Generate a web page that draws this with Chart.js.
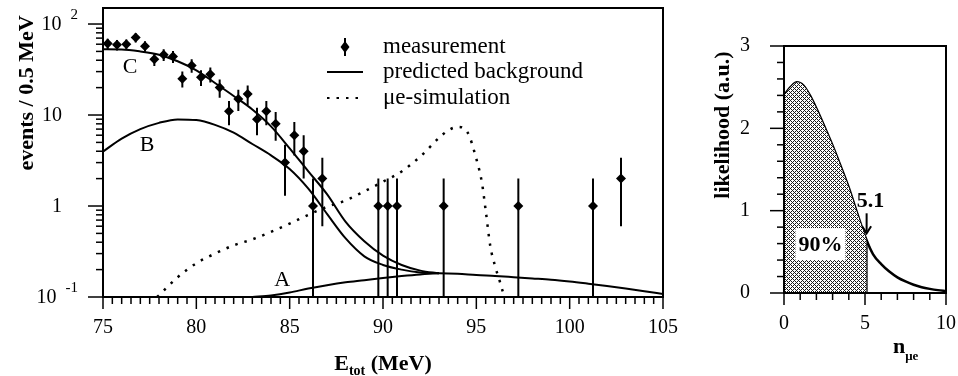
<!DOCTYPE html>
<html>
<head>
<meta charset="utf-8">
<script src="https://cdn.jsdelivr.net/npm/chart.js@4.4.0/dist/chart.umd.min.js"></script>
<style>
  body { margin: 0; background: #fff; }
  #wrap { position: relative; width: 958px; height: 376px; background: #fff; }
  #left { position: absolute; left: 0; top: 0; width: 690px; height: 376px; }
  #right { position: absolute; left: 690px; top: 0; width: 268px; height: 376px; }
</style>
</head>
<body>
<div id="wrap">
  <div id="left"><canvas id="spectrum"></canvas></div>
  <div id="right"><canvas id="likelihood"></canvas></div>
</div>
<script>
// measured spectrum, 0.5 MeV bins (empty bins can't show on the log axis)
const measE = [75.25, 75.75, 76.25, 76.75, 77.25, 77.75, 78.25, 78.75, 79.25, 79.75,
               80.25, 80.75, 81.25, 81.75, 82.25, 82.75, 83.25, 83.75, 84.25, 84.75,
               85.25, 85.75, 86.25, 86.75, 89.75, 90.25, 90.75, 93.25, 97.25, 101.25, 102.75];
const measN = [61, 59, 60, 71, 57, 41, 46, 44, 25, 35,
               26, 28, 20, 11, 15, 17, 9, 11, 8, 3,
               6, 4, 1, 2, 1, 1, 1, 1, 1, 1, 2];
const measErr = [7.8, 7.7, 7.7, 8.4, 7.5, 6.4, 6.8, 6.6, 5, 5.9,
                 5.1, 5.3, 4.5, 3.3, 3.9, 4.1, 3, 3.3, 2.8, 1.7,
                 2.4, 2, 1, 1.4, 1, 1, 1, 1, 1, 1, 1.4];

// predicted background curves
const bgE = [75, 76, 77, 78, 79, 80, 81, 82, 83, 84, 85, 86, 87, 88, 89, 90, 91, 92, 93];
const bgB = [3.96, 5.5, 7.0, 8.2, 8.95, 8.8, 7.8, 6.4, 4.8, 3.6, 2.55, 1.55, 0.82, 0.44, 0.28, 0.225, 0.2, 0.186, 0.182];
const bgC = [52.7, 52.5, 50, 46, 39, 31, 22.5, 16.2, 11.5, 7.5, 4.3, 2.4, 1.35, 0.67, 0.41, 0.285, 0.225, 0.195, 0.182];
const accE = [83, 84, 85, 86, 87, 88, 89, 90, 91, 92, 93, 94, 95, 96, 97, 98, 99, 100, 101, 102, 103, 104, 105];
const bgA = [0.1, 0.104, 0.112, 0.124, 0.135, 0.145, 0.153, 0.162, 0.17, 0.177, 0.182, 0.18, 0.174,
             0.17, 0.165, 0.16, 0.155, 0.148, 0.14, 0.132, 0.124, 0.116, 0.108];

// mu-e simulation
const simE = [77.9, 79, 80, 81, 82, 83, 84, 85, 86, 87, 88, 89, 90, 91, 92, 93, 93.5, 94, 94.5,
              95, 95.3, 95.5, 95.75, 96, 96.25, 96.5];
const simN = [0.1, 0.165, 0.235, 0.3, 0.37, 0.43, 0.52, 0.64, 0.8, 0.98, 1.15, 1.45, 1.85, 2.4, 3.5, 5.6, 6.8, 7.4, 6.6,
              3.3, 1.8, 0.9, 0.36, 0.22, 0.15, 0.1];

const yTickValues = [0.1, 1, 10, 100];
const yTickBase = ['10', '1', '10', '10'];
const yTickExp = ['-1', '', '', '2'];

// likelihood of the number of mu-e events
const likeN = [0, 0.4, 0.8, 1.2, 1.6, 2.0, 2.5, 3.0, 3.5, 4.0, 4.5, 5.1, 5.5, 6.0, 6.5, 7.0, 7.5, 8.0, 8.5, 9.0, 9.5, 10];
const likeL = [2.40, 2.50, 2.56, 2.52, 2.40, 2.24, 2.02, 1.79, 1.54, 1.28, 0.98, 0.64, 0.47, 0.35, 0.26, 0.19, 0.14, 0.10, 0.07, 0.05, 0.035, 0.025];
const nLimit = 5.1;
const confText = '90%';

const SERIF = '"Liberation Serif", "DejaVu Serif", serif';
Chart.defaults.font.family = SERIF;
Chart.defaults.color = '#000';

function line(ctx, x1, y1, x2, y2) {
  ctx.beginPath(); ctx.moveTo(x1, y1); ctx.lineTo(x2, y2); ctx.stroke();
}

function xy(xs, ys) {
  return xs.map((v, i) => ({x: v, y: ys[i]}));
}

const errSegments = [];
measE.forEach((e, i) => {
  errSegments.push({x: e, y: measN[i] + measErr[i]});
  errSegments.push({x: e, y: Math.max(measN[i] - measErr[i], 0.1)});
  errSegments.push({x: e, y: null});
});

const spectrumDecor = {
  id: 'spectrumDecor',
  afterDraw(chart) {
    const {ctx, chartArea: a, scales: {x, y}} = chart;
    ctx.save();
    ctx.strokeStyle = '#000';
    ctx.fillStyle = '#000';
    ctx.lineWidth = 2;
    ctx.strokeRect(a.left, a.top, a.right - a.left, a.bottom - a.top);

    ctx.lineWidth = 1.5;
    for (let i = 0; i <= 60; i++) {
      const px = x.getPixelForValue(75 + i * 0.5);
      line(ctx, px, a.bottom, px, a.bottom + (i % 10 === 0 ? 12 : 7));
    }
    yTickValues.forEach(d => {
      for (let k = 1; k <= 9; k++) {
        if (d * k > y.max) break;
        const py = y.getPixelForValue(d * k);
        line(ctx, a.left - (k === 1 ? 15 : 7), py, a.left, py);
      }
    });

    // y labels with exponents
    ctx.textAlign = 'right';
    yTickValues.forEach((v, i) => {
      const py = y.getPixelForValue(v);
      let right = a.left - 41;
      if (yTickExp[i]) {
        ctx.font = '15px ' + SERIF;
        ctx.textBaseline = 'alphabetic';
        ctx.fillText(yTickExp[i], a.left - 25, py - 5);
        right = a.left - 25 - ctx.measureText(yTickExp[i]).width - 9;
      }
      ctx.font = '20px ' + SERIF;
      ctx.textBaseline = 'middle';
      ctx.fillText(yTickBase[i], right, py + 1);
    });

    // axis titles
    ctx.font = 'bold 22px ' + SERIF;
    ctx.textAlign = 'center';
    ctx.textBaseline = 'middle';
    ctx.save();
    ctx.translate(27, 93);
    ctx.rotate(-Math.PI / 2);
    ctx.fillText('events / 0.5 MeV', 0, 0);
    ctx.restore();

    ctx.textAlign = 'left';
    ctx.textBaseline = 'alphabetic';
    ctx.font = 'bold 22px ' + SERIF;
    const wE = ctx.measureText('E').width;
    const wRest = ctx.measureText(' (MeV)').width;
    ctx.font = 'bold 14px ' + SERIF;
    const wSub = ctx.measureText('tot').width;
    const tx = (a.left + a.right) / 2 - (wE + wSub + wRest) / 2;
    ctx.font = 'bold 22px ' + SERIF;
    ctx.fillText('E', tx, 370);
    ctx.font = 'bold 14px ' + SERIF;
    ctx.fillText('tot', tx + wE, 375);
    ctx.font = 'bold 22px ' + SERIF;
    ctx.fillText(' (MeV)', tx + wE + wSub, 370);

    // curve labels
    ctx.font = '22px ' + SERIF;
    ctx.textAlign = 'center';
    ctx.textBaseline = 'middle';
    [['C', 76.45, 33.7], ['B', 77.36, 4.68], ['A', 84.6, 0.152]].forEach(([t, lx, ly]) => {
      ctx.fillText(t, x.getPixelForValue(lx), y.getPixelForValue(ly));
    });

    // legend
    const lx = 327, lw = 36, ty = [47, 72, 98];
    ctx.lineWidth = 2;
    line(ctx, lx + lw / 2, ty[0] - 9, lx + lw / 2, ty[0] + 9);
    ctx.beginPath();
    ctx.moveTo(lx + lw / 2, ty[0] - 6); ctx.lineTo(lx + lw / 2 + 4.5, ty[0]);
    ctx.lineTo(lx + lw / 2, ty[0] + 6); ctx.lineTo(lx + lw / 2 - 4.5, ty[0]);
    ctx.closePath(); ctx.fill();
    line(ctx, lx, ty[1], lx + lw, ty[1]);
    ctx.setLineDash([2.5, 7]);
    line(ctx, lx, ty[2], lx + lw, ty[2]);
    ctx.setLineDash([]);
    ctx.font = '23px ' + SERIF;
    ctx.textAlign = 'left';
    ctx.fillText('measurement', 383, ty[0]);
    ctx.fillText('predicted background', 383, ty[1]);
    ctx.fillText('\u03bce-simulation', 383, ty[2]);
    ctx.restore();
  }
};

new Chart(document.getElementById('spectrum'), {
  type: 'line',
  data: {
    datasets: [
      {data: errSegments, borderColor: '#000', borderWidth: 2, pointRadius: 0, spanGaps: false},
      {data: xy(measE, measN), showLine: false, pointStyle: 'rectRot', pointRadius: 5,
       pointBackgroundColor: '#000', pointBorderWidth: 0},
      {data: xy(bgE, bgC), borderColor: '#000', borderWidth: 2, pointRadius: 0, cubicInterpolationMode: 'monotone'},
      {data: xy(bgE, bgB), borderColor: '#000', borderWidth: 2, pointRadius: 0, cubicInterpolationMode: 'monotone'},
      {data: xy(accE, bgA), borderColor: '#000', borderWidth: 2, pointRadius: 0, cubicInterpolationMode: 'monotone'},
      {data: xy(simE, simN), borderColor: '#000', borderWidth: 2.5, borderDash: [2.5, 7], pointRadius: 0,
       cubicInterpolationMode: 'monotone'}
    ]
  },
  options: {
    responsive: true, maintainAspectRatio: false, animation: false, devicePixelRatio: 1,
    layout: {padding: {top: 8, right: 27, left: 0, bottom: 0}},
    plugins: {legend: {display: false}, tooltip: {enabled: false}},
    scales: {
      x: {
        type: 'linear', min: 75, max: 105,
        grid: {display: false, drawTicks: false}, border: {display: false},
        ticks: {stepSize: 5, font: {size: 20}, color: '#000', padding: 19, maxRotation: 0, autoSkip: false},
        afterFit: s => { s.height = 79; s.paddingLeft = 0; s.paddingRight = 0; }
      },
      y: {
        type: 'logarithmic', min: 0.1, max: 150,
        grid: {display: false, drawTicks: false}, border: {display: false},
        ticks: {display: false},
        afterFit: s => { s.width = 103; }
      }
    }
  },
  plugins: [spectrumDecor]
});

// stippled fill for the 90% region
function stipple(ctx) {
  const c = document.createElement('canvas');
  c.width = 4; c.height = 4;
  const g = c.getContext('2d');
  g.fillStyle = '#fff'; g.fillRect(0, 0, 4, 4);
  g.fillStyle = '#1a1a1a';
  [[0, 0], [1, 1], [2, 2], [3, 3], [1, 3], [3, 1]].forEach(([px, py]) => g.fillRect(px, py, 1, 1));
  return ctx.createPattern(c, 'repeat');
}

const likeCanvas = document.getElementById('likelihood');
const limitL = likeL[likeN.indexOf(nLimit)];

const likeDecor = {
  id: 'likeDecor',
  afterDraw(chart) {
    const {ctx, chartArea: a, scales: {x, y}} = chart;
    ctx.save();
    ctx.strokeStyle = '#000';
    ctx.fillStyle = '#000';
    ctx.lineWidth = 2;
    ctx.strokeRect(a.left, a.top, a.right - a.left, a.bottom - a.top);
    ctx.lineWidth = 1.5;
    for (let i = 0; i <= 10; i++) {
      const px = x.getPixelForValue(i);
      line(ctx, px, a.bottom, px, a.bottom + (i % 5 === 0 ? 12 : 7));
    }
    for (let i = 0; i <= 15; i++) {
      const py = y.getPixelForValue(i * 0.2);
      line(ctx, a.left - (i % 5 === 0 ? 14 : 7), py, a.left, py);
    }

    // 90% box
    const bx = x.getPixelForValue(2.25), by = y.getPixelForValue(0.594);
    ctx.fillStyle = '#fff';
    ctx.fillRect(bx - 25, by - 16, 50, 32);
    ctx.fillStyle = '#000';
    ctx.font = 'bold 22px ' + SERIF;
    ctx.textAlign = 'center';
    ctx.textBaseline = 'middle';
    ctx.fillText(confText, bx, by + 1);

    // limit arrow
    const ax = x.getPixelForValue(nLimit), ay = y.getPixelForValue(limitL);
    ctx.fillText(String(nLimit), ax + 4, ay - 39);
    ctx.lineWidth = 2;
    line(ctx, ax, ay - 27, ax, ay - 9);
    ctx.beginPath();
    ctx.moveTo(ax - 4.5, ay - 14); ctx.lineTo(ax, ay - 7); ctx.lineTo(ax + 4.5, ay - 14);
    ctx.stroke();

    // titles
    ctx.save();
    ctx.translate(33, 125);
    ctx.rotate(-Math.PI / 2);
    ctx.fillText('likelihood (a.u.)', 0, 0);
    ctx.restore();
    ctx.textAlign = 'left';
    ctx.textBaseline = 'alphabetic';
    ctx.fillText('n', 203, 353);
    const wn = ctx.measureText('n').width;
    ctx.font = 'bold 13px ' + SERIF;
    ctx.fillText('\u03bce', 203 + wn, 360);
    ctx.restore();
  }
};

new Chart(likeCanvas, {
  type: 'line',
  data: {
    datasets: [
      {data: xy(likeN, likeL).filter(p => p.x <= nLimit), fill: 'origin', backgroundColor: stipple(likeCanvas.getContext('2d')),
       borderWidth: 0, pointRadius: 0, cubicInterpolationMode: 'monotone'},
      {data: [{x: nLimit, y: 0}, {x: nLimit, y: limitL}], borderColor: '#000', borderWidth: 2, pointRadius: 0},
      {data: xy(likeN, likeL), borderColor: '#000', borderWidth: 2.5, pointRadius: 0, cubicInterpolationMode: 'monotone'}
    ]
  },
  options: {
    responsive: true, maintainAspectRatio: false, animation: false, devicePixelRatio: 1,
    layout: {padding: {top: 43, right: 12, left: 0, bottom: 0}},
    plugins: {legend: {display: false}, tooltip: {enabled: false}},
    scales: {
      x: {
        type: 'linear', min: 0, max: 10,
        grid: {display: false, drawTicks: false}, border: {display: false},
        ticks: {stepSize: 5, font: {size: 20}, color: '#000', padding: 19, maxRotation: 0, autoSkip: false},
        afterFit: s => { s.height = 83; s.paddingLeft = 0; s.paddingRight = 0; }
      },
      y: {
        type: 'linear', min: 0, max: 3,
        grid: {display: false, drawTicks: false}, border: {display: false},
        ticks: {stepSize: 1, font: {size: 20}, color: '#000', padding: 34},
        afterFit: s => { s.width = 94; }
      }
    }
  },
  plugins: [likeDecor]
});
</script>
</body>
</html>
